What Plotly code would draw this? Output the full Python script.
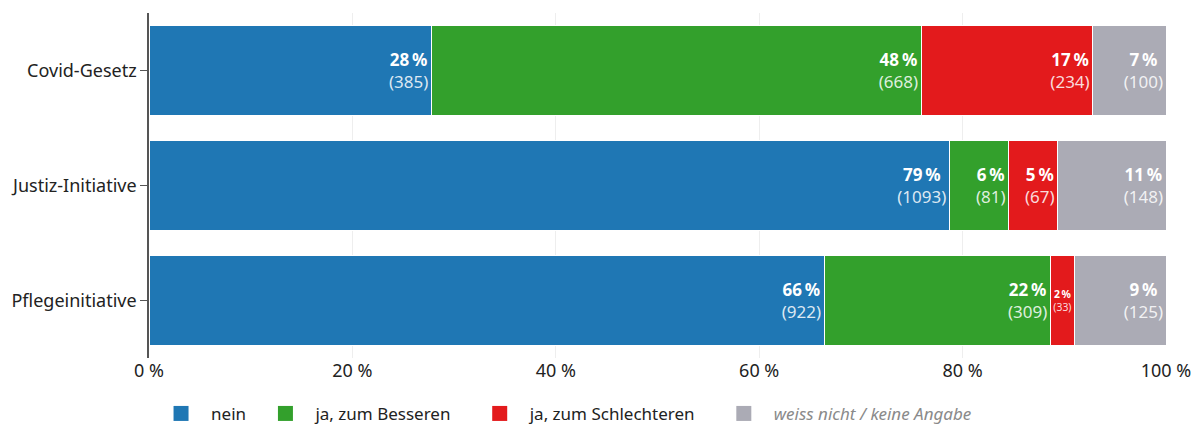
import plotly.graph_objects as go

categories = ["Covid-Gesetz", "Justiz-Initiative", "Pflegeinitiative"]
series_names = ["nein", "ja, zum Besseren", "ja, zum Schlechteren", "weiss nicht / keine Angabe"]
counts_nein = [385, 1093, 922]
counts_besser = [668, 81, 309]
counts_schlechter = [234, 67, 33]
counts_weissnicht = [100, 148, 125]
colors = ["#1f77b4", "#33a02c", "#e31a1c", "#ababb5"]
x_ticks = [0, 20, 40, 60, 80, 100]
x_ticklabels = ["0 %", "20 %", "40 %", "60 %", "80 %", "100 %"]

all_counts = [counts_nein, counts_besser, counts_schlechter, counts_weissnicht]
totals = [sum(c[i] for c in all_counts) for i in range(len(categories))]

fig = go.Figure()
for name, cnts, col in zip(series_names, all_counts, colors):
    pct = [c / t * 100 for c, t in zip(cnts, totals)]
    texts = [f"<b>{round(p)}\u202f%</b><br><span style='color:rgba(255,255,255,0.85)'>({c})</span>"
             for p, c in zip(pct, cnts)]
    fig.add_trace(go.Bar(
        y=categories, x=pct, orientation="h", name=name, showlegend=False,
        marker=dict(color=col, line=dict(color="white", width=1)),
        text=texts, textposition="inside", insidetextanchor="end",
        textfont=dict(color="white", size=17, family="Noto Sans"),
        hoverinfo="skip",
    ))

# legend entries with square markers
pads = ["\u00a0", "\u00a0" * 3, "\u00a0" * 3, ""]
for name, col, pad in zip(series_names, colors, pads):
    label = name + pad
    if name.startswith("weiss"):
        label = f"<span style='color:#8a8a8a'><i>{name}</i></span>"
    fig.add_trace(go.Scatter(
        x=[None], y=[None], mode="markers", name=label,
        marker=dict(symbol="square", size=15, color=col),
        hoverinfo="skip",
    ))

fig.update_layout(
    barmode="stack", bargap=0.22,
    width=1193, height=424,
    margin=dict(l=149, r=27, t=13, b=66, autoexpand=False),
    paper_bgcolor="white", plot_bgcolor="white",
    font=dict(family="Noto Sans", size=17, color="#222222"),
    showlegend=True,
    legend=dict(orientation="h", x=0.002, xanchor="left", y=-0.162, yanchor="middle",
                font=dict(size=17, color="#222222"), itemwidth=50,
                traceorder="normal"),
)
fig.update_xaxes(range=[0, 100], tickvals=x_ticks, ticktext=x_ticklabels,
                 showgrid=True, gridcolor="#eeeeee", gridwidth=1,
                 zeroline=False, showline=False, ticks="", automargin=False,
                 tickfont=dict(size=18, color="#222222"))
fig.update_yaxes(autorange="reversed", showline=True, linecolor="#555555", linewidth=1.5,
                 ticks="outside", ticklen=7, tickcolor="#555555", automargin=False,
                 layer="below traces", showgrid=False,
                 tickfont=dict(size=18, color="#222222"))

fig.write_html("out.html", config={"displayModeBar": False},
               post_script="document.body.style.margin='0';")
